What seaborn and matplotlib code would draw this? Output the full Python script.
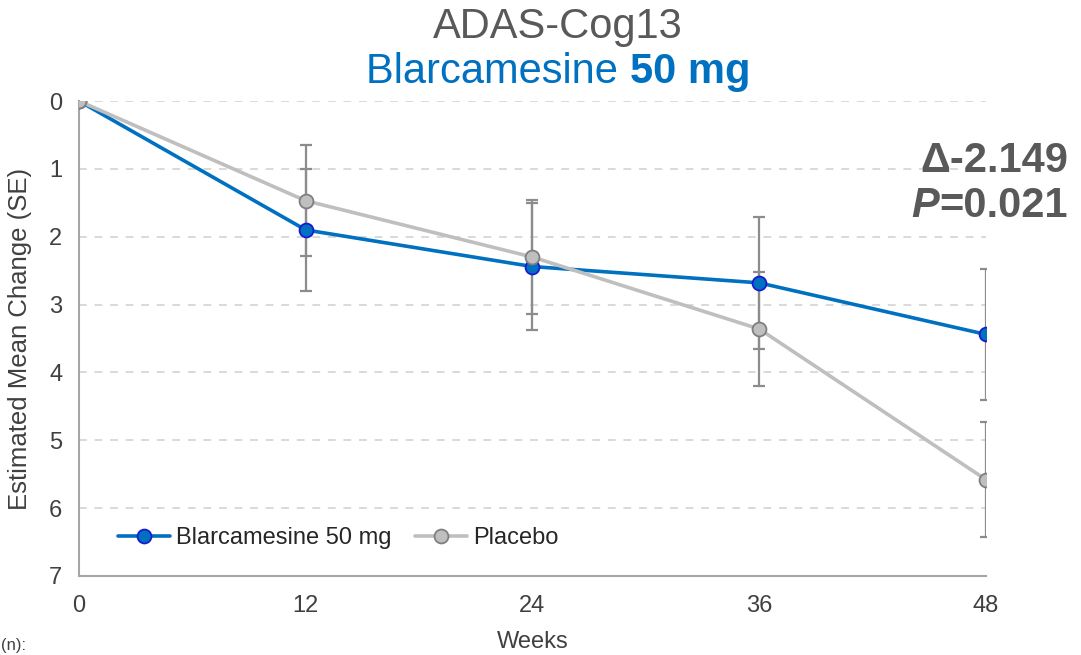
import matplotlib
matplotlib.use("Agg")
import matplotlib.pyplot as plt
import seaborn as sns
import pandas as pd
import numpy as np

weeks = [0, 12, 24, 36, 48]
blarc_mean = [0.0, 1.90, 2.44, 2.68, 3.44]
blarc_se = [0.0, 0.90, 0.94, 0.97, 0.97]
placebo_mean = [0.0, 1.47, 2.30, 3.36, 5.58]
placebo_se = [0.0, 0.82, 0.84, 0.84, 0.85]
series_names = ["Blarcamesine 50 mg", "Placebo"]
yticks = [0, 1, 2, 3, 4, 5, 6, 7]

BLUE = "#0070C0"
BLUE_EDGE = "#1A1AD0"
GRAY = "#BFBFBF"
GRAY_EDGE = "#7F7F7F"
ERR = "#8C8C8C"
TXT = "#404040"

sns.set_theme(style="white")
plt.rcParams["font.family"] = ["Liberation Sans", "DejaVu Sans"]

df = pd.DataFrame({
    "Weeks": weeks * 2,
    "value": blarc_mean + placebo_mean,
    "se": blarc_se + placebo_se,
    "group": [series_names[0]] * len(weeks) + [series_names[1]] * len(weeks),
})

fig = plt.figure(figsize=(10.81, 6.55), dpi=100)
ax = fig.add_axes([79 / 1081, 1 - 576 / 655, (986 - 79) / 1081, (576 - 101) / 655])

styles = {
    series_names[0]: dict(color=BLUE, mfc=BLUE, mec=BLUE_EDGE),
    series_names[1]: dict(color=GRAY, mfc=GRAY, mec=GRAY_EDGE),
}

for name in series_names:
    sub = df[df.group == name]
    ax.errorbar(sub["Weeks"], sub["value"], yerr=sub["se"], fmt="none",
                ecolor=ERR, elinewidth=1.6, capsize=4.5, capthick=1.6, zorder=2)

for name, z in [(series_names[0], 3), (series_names[1], 4)]:
    sub = df[df.group == name]
    st = styles[name]
    sns.lineplot(data=sub, x="Weeks", y="value", ax=ax, color=st["color"],
                 linewidth=2.6, marker="o", markersize=10,
                 markerfacecolor=st["mfc"], markeredgecolor=st["mec"],
                 markeredgewidth=1.3, label=name, zorder=z, errorbar=None)

ax.set_xlim(0, 48)
ax.set_ylim(7, 0)
ax.set_xticks(weeks)
ax.set_yticks(yticks)
ax.tick_params(axis="y", length=0, labelsize=17, colors=TXT, pad=12)
ax.tick_params(axis="x", length=0, labelsize=17, colors=TXT, pad=14)

for y in yticks[:-1]:
    ax.axhline(y, color="#D9D9D9", linewidth=1.4, linestyle=(0, (4, 4)), zorder=0)

for s in ["top", "right"]:
    ax.spines[s].set_visible(False)
for s in ["left", "bottom"]:
    ax.spines[s].set_color("#A6A6A6")
    ax.spines[s].set_linewidth(1.5)

ax.set_xlabel("Weeks", fontsize=17, color=TXT, labelpad=10)
ax.set_ylabel("Estimated Mean Change (SE)", fontsize=18.5, color=TXT, labelpad=12)

leg = ax.legend(loc="center left", bbox_to_anchor=(0.02, 0.08), ncol=2, frameon=False,
                fontsize=17, handlelength=2.2, columnspacing=1.0, handletextpad=0.25)
for t in leg.get_texts():
    t.set_color("#262626")

fig.canvas.draw()
r = fig.canvas.get_renderer()
title_x = 558 / 1081
fig.text(title_x, 1 - 38 / 655, "ADAS-Cog13", ha="center", va="baseline",
         fontsize=30, color="#595959")
ta = fig.text(0, 1 - 83 / 655, "Blarcamesine ", ha="left", va="baseline",
              fontsize=30, color=BLUE)
tb = fig.text(0, 1 - 83 / 655, "50 mg", ha="left", va="baseline",
              fontsize=30, color=BLUE, fontweight="bold")
wa = ta.get_window_extent(r).width
wb = tb.get_window_extent(r).width
start = title_x * 1081 - (wa + wb) / 2
ta.set_x(start / 1081)
tb.set_x((start + wa) / 1081)

fig.text(1068 / 1081, 1 - 172 / 655, "Δ-2.149", ha="right", va="baseline",
         fontsize=30, fontweight="bold", color="#595959")
pe = fig.text(1068 / 1081, 1 - 217 / 655, "=0.021", ha="right", va="baseline",
              fontsize=30, fontweight="bold", color="#595959")
we = pe.get_window_extent(r).width
fig.text((1068 - we) / 1081, 1 - 217 / 655, "P", ha="right", va="baseline",
         fontsize=30, fontweight="bold", fontstyle="italic", color="#595959")

fig.text(1 / 1081, 2 / 655, "(n):", ha="left", va="bottom", fontsize=12, color=TXT)

fig.savefig("out.png", dpi=100)
